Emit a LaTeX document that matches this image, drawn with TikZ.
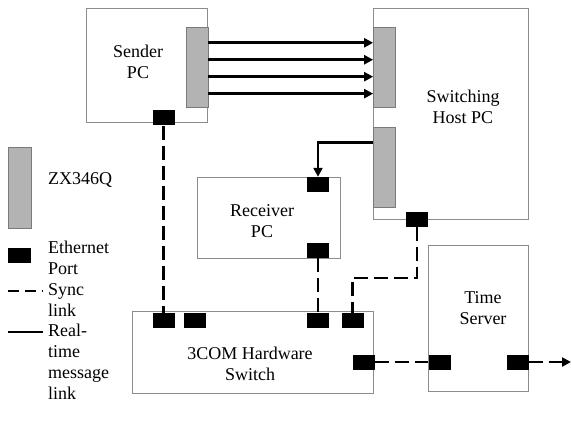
\documentclass[tikz,border=0pt]{standalone}
\usepackage{fontspec}
\setmainfont{Liberation Serif}
\usetikzlibrary{arrows.meta,calc}
\definecolor{boxline}{HTML}{8C8C8C}
\definecolor{zxfill}{HTML}{B3B3B3}
\definecolor{zxline}{HTML}{7A7A7A}
\tikzset{
  unit/.style={draw=boxline, line width=0.8pt, fill=white, inner sep=0pt, minimum width=#1},
  zx/.style={draw=zxline, line width=0.7pt, fill=zxfill, inner sep=0pt, minimum width=22pt, minimum height=80pt},
  port/.style={fill=black, inner sep=0pt, minimum width=22pt, minimum height=15pt},
  label/.style={align=center, inner sep=0pt, font=\fontsize{18}{21}\selectfont},
  legend/.style={align=left, anchor=west, inner sep=0pt, font=\fontsize{18}{21}\selectfont},
  msg/.style={line width=2.6pt, -{Triangle[length=9pt,width=9pt]}},
  sync/.style={line width=2.6pt, dash pattern=on 14pt off 6pt},
}
\begin{document}
\begin{tikzpicture}[x=1pt,y=-1pt]
  \useasboundingbox (0,0) rectangle (571,428);

  % Sender PC
  \node[unit=121pt, minimum height=114pt] (sender) at (146.5,65) {};
  \node[label] (sendertxt) at (138,62) {Sender\\PC};
  \node[zx] (szx) at (197,67) {};
  \node[port] (sport) at (163.5,118) {};

  % Switching host PC
  \node[unit=155pt, minimum height=211pt] (host) at (450.5,113.5) {};
  \node[label] (hosttxt) at (463,107) {Switching\\Host PC};
  \node[zx] (hzxa) at (384.5,67) {};
  \node[zx] (hzxb) at (384.5,167) {};
  \node[port] (hport) at (417,219) {};

  % Receiver PC
  \node[unit=143pt, minimum height=81pt] (recv) at (268.5,217.5) {};
  \node[label] (recvtxt) at (262,221) {Receiver\\PC};
  \node[port] (rtop) at (318,184.5) {};
  \node[port] (rbot) at (318,250.5) {};

  % 3COM hardware switch
  \node[unit=241pt, minimum height=82pt] (switch) at (252.5,352) {};
  \node[label] (switchtxt) at (250,364) {3COM Hardware\\Switch};
  \node[port] (swa) at (163.5,320.5) {};
  \node[port] (swb) at (194.5,320.5) {};
  \node[port] (swc) at (318,320.5) {};
  \node[port] (swd) at (352.5,320.5) {};
  \node[port] (swe) at (363.5,362) {};

  % Time server
  \node[unit=100pt, minimum height=146pt] (tserv) at (478,318) {};
  \node[label] (tservtxt) at (483,308) {Time\\Server};
  \node[port] (tsl) at (439.5,362) {};
  \node[port] (tsr) at (517.5,362) {};
  \coordinate (tsout) at (571,362);

  % Real-time message links
  \foreach \f in {0.2,0.41,0.62,0.83}
    \draw[msg] ($(szx.north east)!\f!(szx.south east)$) -- ($(hzxa.north west)!\f!(hzxa.south west)$);
  \draw[msg] ($(hzxb.north west)!0.2!(hzxb.south west)$) -| (rtop.north);

  % Sync links
  \draw[sync] (sport.south) -- (swa.north);
  \draw[sync] (rbot.south) -- (swc.north);
  \coordinate (bend) at (417,278);
  \draw[sync] (hport.south) -- (bend) -| (swd.north);
  \draw[sync] (swe.east) -- (tsl.west);
  \draw[sync, -{Triangle[length=9pt,width=9pt]}] (tsr.east) -- (tsout);

  % Legend
  \node[zx, minimum width=23pt, minimum height=81pt] (lgzx) at (19.5,187.5) {};
  \node[legend] (lgzxtxt) at (48,180) {ZX346Q};
  \node[port, minimum width=23pt] (lgport) at (19.5,255.5) {};
  \node[legend] (lgporttxt) at (48,258) {Ethernet\\Port};
  \coordinate (lgsa) at (8,291);
  \coordinate (lgsb) at (43,291);
  \draw[line width=2.6pt, dash pattern=on 11pt off 6pt] (lgsa) -- (lgsb);
  \node[legend] (lgsynctxt) at (48,300) {Sync\\link};
  \coordinate (lgma) at (8,332);
  \coordinate (lgmb) at (43,332);
  \draw[line width=2.6pt] (lgma) -- (lgmb);
  \node[legend] (lgmsgtxt) at (48,362) {Real-\\time\\message\\link};
\end{tikzpicture}
\end{document}
